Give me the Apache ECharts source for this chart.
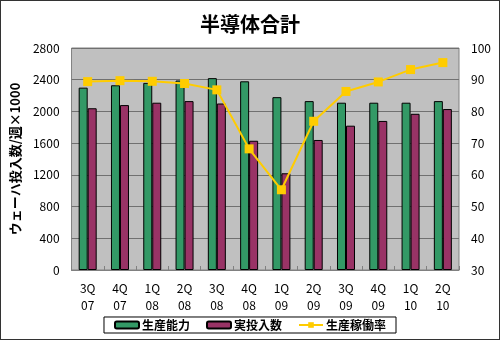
<!DOCTYPE html>
<html><head><meta charset="utf-8">
<script src="https://cdn.jsdelivr.net/npm/echarts@6/dist/echarts.min.js"></script>
<style>html,body{margin:0;padding:0;background:#fff}#c{width:498px;height:338px;border:1px solid #333}</style>
</head><body><div id="c"></div>
<script>
const categories = ['3Q\n07','4Q\n07','1Q\n08','2Q\n08','3Q\n08','4Q\n08','1Q\n09','2Q\n09','3Q\n09','4Q\n09','1Q\n10','2Q\n10'];
const capacity = [2300,2330,2360,2390,2420,2380,2180,2130,2110,2110,2110,2130];
const starts = [2040,2080,2110,2130,2100,1630,1220,1640,1820,1880,1970,2030];
const utilization = [89.4,89.7,89.5,88.8,86.8,68.2,55.3,76.9,86.3,89.3,93.2,95.4];
const leftTicks = {min:0,max:2800,interval:400};
const rightTicks = {min:30,max:100,interval:10};
const font = '"Noto Sans CJK JP", sans-serif';
const chart = echarts.init(document.getElementById('c'));
chart.setOption({
  animation:false,
  textStyle:{fontFamily:font},
  title:{text:'半導体合計',left:'center',top:8,textStyle:{fontSize:20,fontWeight:'bold',color:'#000',fontFamily:font}},
  grid:{left:61,right:40,top:47,bottom:69,show:true,backgroundColor:'#c0c0c0',borderColor:'#808080',borderWidth:1},
  legend:{bottom:6,left:'center',itemGap:16,padding:[2,10],borderColor:'#000',borderWidth:1,itemWidth:24,itemHeight:7,
    textStyle:{fontSize:12,fontWeight:'bold',color:'#000',fontFamily:font,padding:[0,0,0,-2]},
    data:[{name:'生産能力'},{name:'実投入数'},{name:'生産稼働率'}]},
  xAxis:{type:'category',data:categories,axisLine:{lineStyle:{color:'#808080'}},axisTick:{show:true,inside:true,length:4,lineStyle:{color:'#808080'}},
    axisLabel:{color:'#000',fontSize:12,lineHeight:17,margin:10,fontFamily:font}},
  yAxis:[
    {type:'value',min:leftTicks.min,max:leftTicks.max,interval:leftTicks.interval,name:'ウェーハ投入数/週×1000',nameLocation:'middle',nameGap:38,nameRotate:90,
     nameTextStyle:{fontSize:13,fontWeight:'bold',color:'#000',fontFamily:font},
     axisLabel:{color:'#000',fontSize:12,margin:12,formatter:v=>String(v)},axisLine:{show:false},axisTick:{show:false},
     splitLine:{lineStyle:{color:'#707070',width:1}}},
    {type:'value',min:rightTicks.min,max:rightTicks.max,interval:rightTicks.interval,position:'right',
     axisLabel:{color:'#000',fontSize:12,margin:12,formatter:v=>String(v)},axisLine:{show:false},axisTick:{show:false},splitLine:{show:false}}
  ],
  series:[
    {name:'生産能力',type:'bar',data:capacity,barWidth:9,barGap:'0%',itemStyle:{color:'#339966',borderColor:'#000',borderWidth:1}},
    {name:'実投入数',type:'bar',data:starts,barWidth:9,barGap:'0%',itemStyle:{color:'#993366',borderColor:'#000',borderWidth:1}},
    {name:'生産稼働率',type:'line',yAxisIndex:1,data:utilization,symbol:'rect',symbolSize:9,
     lineStyle:{color:'#ffcc00',width:2},itemStyle:{color:'#ffcc00'}}
  ]
});
</script></body></html>
